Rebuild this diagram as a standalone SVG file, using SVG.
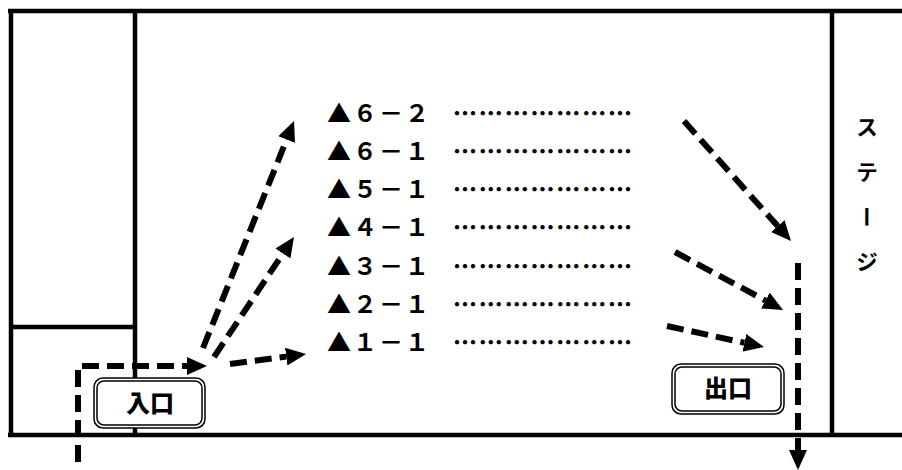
<svg xmlns="http://www.w3.org/2000/svg" width="902" height="470" viewBox="0 0 902 470">
<style>
.frame{fill:none;stroke:#000;stroke-width:4.5}
.dash{fill:none;stroke:#000;stroke-width:6;stroke-dasharray:17 8}
.box{fill:#fff;stroke:#000;stroke-width:1.5}
.box2{fill:none;stroke:#000;stroke-width:1.5}
.lbl{font-family:"Noto Sans CJK JP","Noto Sans",sans-serif;font-size:24px;font-weight:900;fill:#000}
.row{font-family:"Noto Sans CJK JP","Noto Sans",sans-serif;font-size:24px;font-weight:bold;fill:#000;letter-spacing:2px}
.dots{font-family:"Noto Sans CJK JP","Noto Sans",sans-serif;font-size:24px;font-weight:900;fill:#000;letter-spacing:1px}
.stage{font-family:"Noto Sans CJK JP","Noto Sans",sans-serif;font-size:22px;font-weight:bold;fill:#000;writing-mode:vertical-rl;letter-spacing:23px}
</style>
<defs>
<marker id="ah" viewBox="0 0 20 18" refX="0" refY="9" markerWidth="20" markerHeight="18" markerUnits="userSpaceOnUse" orient="auto">
<path d="M0,0 L20,9 L0,18 Z" fill="#000"/>
</marker>
</defs>
<rect width="902" height="470" fill="#fff"/>
<g id="walls">
<path class="frame" d="M8,11 H902"/>
<path class="frame" d="M11,9 V437"/>
<path class="frame" d="M8,435 H902"/>
<path class="frame" d="M135,11 V435"/>
<path class="frame" d="M11,327 H135"/>
<path class="frame" d="M832,11 V435"/>
</g>
<g id="connectors">
<path class="dash" d="M78,462 V366 H187" marker-end="url(#ah)"/>
<path class="dash" d="M203,348 L286.6,139.6" marker-end="url(#ah)"/>
<path class="dash" d="M214,357 L282.9,253.6" marker-end="url(#ah)"/>
<path class="dash" d="M230,364 L286.2,356.6" marker-end="url(#ah)"/>
<path class="dash" d="M684,121 L777.7,226.1" marker-end="url(#ah)"/>
<path class="dash" d="M675,252 L765.4,300.5" marker-end="url(#ah)"/>
<path class="dash" d="M667,326 L744.4,342.8" marker-end="url(#ah)"/>
<path class="dash" d="M798,263 V450" marker-end="url(#ah)"/>
</g>
<g id="entrance">
<rect class="box" x="94" y="378" width="111" height="50" rx="9"/>
<rect class="box2" x="97" y="381" width="105" height="44" rx="7"/>
<text class="lbl" x="150" y="412" text-anchor="middle">入口</text>
</g>
<g id="exit">
<rect class="box" x="672" y="364" width="112" height="50" rx="9"/>
<rect class="box2" x="675" y="367" width="106" height="44" rx="7"/>
<text class="lbl" x="728" y="397" text-anchor="middle">出口</text>
</g>
<g id="stage">
<text class="stage" x="867" y="116">ステージ</text>
</g>
<g id="list">
<text class="row" x="327" y="121.5">▲６－２</text>
<text class="row" x="327" y="159.75">▲６－１</text>
<text class="row" x="327" y="198">▲５－１</text>
<text class="row" x="327" y="236.25">▲４－１</text>
<text class="row" x="327" y="274.5">▲３－１</text>
<text class="row" x="327" y="312.75">▲２－１</text>
<text class="row" x="327" y="351">▲１－１</text>
<text class="dots" x="453" y="121.5" textLength="180" lengthAdjust="spacing">…………………</text>
<text class="dots" x="453" y="159.75" textLength="180" lengthAdjust="spacing">…………………</text>
<text class="dots" x="453" y="198" textLength="180" lengthAdjust="spacing">…………………</text>
<text class="dots" x="453" y="236.25" textLength="180" lengthAdjust="spacing">…………………</text>
<text class="dots" x="453" y="274.5" textLength="180" lengthAdjust="spacing">…………………</text>
<text class="dots" x="453" y="312.75" textLength="180" lengthAdjust="spacing">…………………</text>
<text class="dots" x="453" y="351" textLength="180" lengthAdjust="spacing">…………………</text>
</g>
</svg>
